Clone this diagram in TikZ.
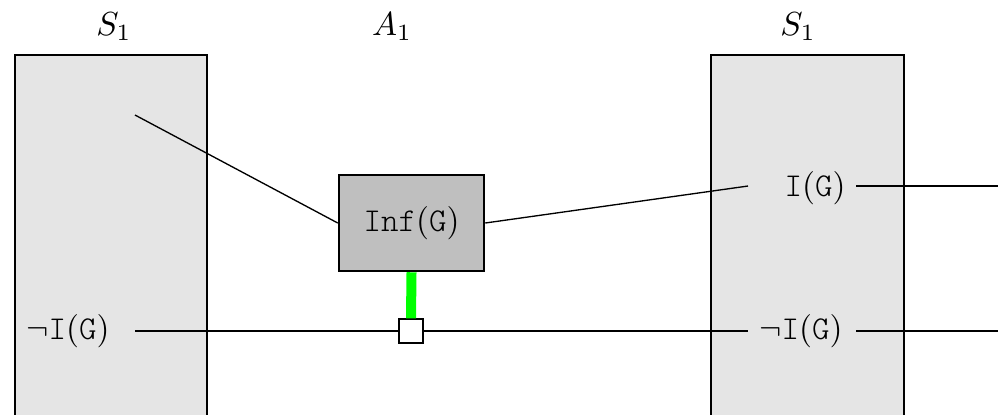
\documentclass[tikz,border=0pt]{standalone}
\usepackage{fontspec}
\setmonofont{Latin Modern Mono Light}
\begin{document}
\begin{tikzpicture}[x=0.3pt,y=-0.3pt,
  sbox/.style={draw=black,line width=0.75pt,fill=gray!20},
  infbox/.style={draw=black,line width=0.75pt,fill=gray!50,minimum width=43.5pt,minimum height=28.8pt,inner sep=0pt},
  lbl/.style={inner sep=0pt},
  wire/.style={draw=black,line width=0.4pt},
  sq/.style={draw=black,line width=0.4pt,fill=white,minimum size=7.2pt,inner sep=0pt},
  gbar/.style={draw=green,line width=3pt}]
\useasboundingbox (0,0) rectangle (998,414);
\clip (0,0) rectangle (998,414);
% state boxes
\draw[sbox] (15,55) rectangle (207,440);
\draw[sbox] (711,55) rectangle (904,440);
% titles
\node[lbl] (s1l) at (114,27) {$S_1$};
\node[lbl] (a1) at (392,27) {$A_1$};
\node[lbl] (s1r) at (798,27) {$S_1$};
% action box
\node[infbox] (inf) at (411.5,223) {\texttt{Inf}$($\texttt{G}$)$};
% ports / texts
\node[lbl] (lnI) at (68,331) {$\neg$\texttt{I}$($\texttt{G}$)$};
\node[lbl] (rI) at (815,188) {\texttt{I}$($\texttt{G}$)$};
\node[lbl] (rnI) at (801,331) {$\neg$\texttt{I}$($\texttt{G}$)$};
\coordinate (ltop) at (135,115);
\coordinate (lnIout) at (135,331);
\coordinate (rIin) at (748,186);
\coordinate (rIout) at (856,186);
\coordinate (rnIin) at (748,331);
\coordinate (rnIout) at (856,331);
\coordinate (rIend) at (998,186);
\coordinate (rnIend) at (998,331);
% connectors
\draw[wire] (ltop) -- (inf.west);
\draw[wire] (inf.east) -- (rIin);
\draw[wire] (rIout) -- (rIend);
\draw[wire] (lnIout) -- (rnIin);
\draw[wire] (rnIout) -- (rnIend);
\node[sq] (junc) at (411,331) {};
\draw[gbar] (inf.south) -- (junc.north);
\end{tikzpicture}
\end{document}
